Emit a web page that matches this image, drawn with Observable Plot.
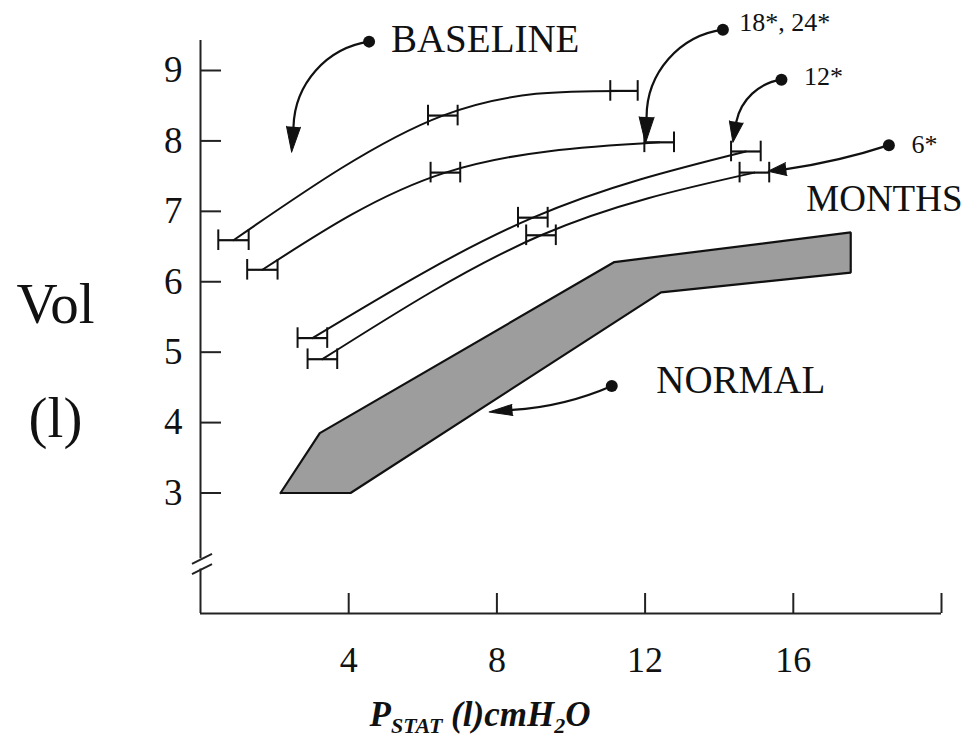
<!DOCTYPE html>
<html><head><meta charset="utf-8">
<script src="https://cdn.jsdelivr.net/npm/d3@7"></script>
<script src="https://cdn.jsdelivr.net/npm/@observablehq/plot@0.6"></script>
<style>html,body{margin:0;padding:0;background:#fff;}</style>
</head><body><div id="chart"></div>
<script>
// ---------- data ----------
const seriesNames = ["BASELINE", "18*, 24*", "12*", "6*"];
const baselineP  = [0.89, 6.54, 11.43];
const baselineV  = [6.59, 8.36, 8.71];
const baselineSE = [0.41, 0.40, 0.37];
const m18P  = [1.67, 6.61, 12.38];
const m18V  = [6.17, 7.55, 7.98];
const m18SE = [0.41, 0.40, 0.40];
const m12P  = [3.02, 8.97, 14.72];
const m12V  = [5.20, 6.91, 7.85];
const m12SE = [0.40, 0.40, 0.40];
const m6P   = [3.29, 9.19, 14.95];
const m6V   = [4.90, 6.66, 7.55];
const m6SE  = [0.40, 0.40, 0.40];

// NORMAL band outline (polygon vertices)
const normalP = [2.16, 3.22, 11.17, 17.55, 17.55, 12.43, 4.05, 2.16];
const normalV = [3.00, 3.85, 6.28, 6.70, 6.13, 5.85, 3.00, 3.00];

const xTickLabels = [4, 8, 12, 16];
const xTickMarks = [4, 8, 12, 16, 20];
const yTickLabels = [3, 4, 5, 6, 7, 8, 9];
const axisBreakV = [2.065, 1.92];

// annotations
const annoLabels   = ["BASELINE", "18*, 24*", "12*", "6*", "NORMAL"];
const annoTextP    = [5.14, 14.54, 16.29, 19.19, 12.30];
const annoTextV    = [9.445, 9.675, 8.908, 7.95, 4.60];
const annoTextSize = [39, 26, 26, 26, 39];
const annoDotP     = [4.55, 14.10, 15.68, 18.58, 11.10];
const annoDotV     = [9.41, 9.58, 8.87, 7.94, 4.52];
const annoBaseP    = [2.51, 12.04, 14.46, 15.81, 8.42];
const annoBaseV    = [8.20, 8.34, 8.27, 7.60, 4.18];
const annoTipP     = [2.46, 12.01, 14.37, 15.32, 7.79];
const annoTipV     = [7.84, 7.97, 7.98, 7.57, 4.15];
const annoBend     = [-40, -41, -35, 5, 10];
const annoHeadHalfW = [7, 7.5, 7, 6.5, 5.5];
const monthsLabel = ["MONTHS"];
const monthsP = [16.35];
const monthsV = [7.18];

const yLabelLines = ["Vol", "(l)"];
const yLabelV = [5.68, 4.06];

// ---------- layout ----------
const W = 970, H = 738;
const mL = 200, mR = 29, mT = 40, mB = 125;
const xMin = 0, xMax = 20, yMin = 1.289, yMax = 9.426;
const plotW = W - mL - mR, plotH = H - mT - mB;
const kx = plotW / (xMax - xMin), ky = plotH / (yMax - yMin);

const seriesP = [baselineP, m18P, m12P, m6P];
const seriesV = [baselineV, m18V, m12V, m6V];
const seriesSE = [baselineSE, m18SE, m12SE, m6SE];
const rows = [];
seriesNames.forEach((s, i) => seriesP[i].forEach((p, j) =>
  rows.push({series: s, p, v: seriesV[i][j], se: seriesSE[i][j]})));

const band = normalP.map((p, i) => ({p, v: normalV[i]}));
const capH = 10.3 / ky;

const annos = annoLabels.map((label, i) => {
  const dx = (annoTipP[i] - annoBaseP[i]) * kx;
  const dy = -(annoTipV[i] - annoBaseV[i]) * ky;
  return {label, i, rotate: Math.atan2(dx, -dy) * 180 / Math.PI, len: Math.hypot(dx, dy)};
});

const serif = "'Liberation Serif', 'Times New Roman', serif";
const bandFill = "#9d9d9d";

const marks = [
  // NORMAL band
  Plot.line(band, {x: "p", y: "v", fill: bandFill, stroke: "#111", strokeWidth: 2.2, strokeLinejoin: "miter"}),
  // axes
  Plot.ruleX([xMin], {y1: axisBreakV[0], y2: yMax, stroke: "#222", strokeWidth: 2}),
  Plot.ruleX([xMin], {y1: yMin, y2: axisBreakV[1], stroke: "#222", strokeWidth: 2}),
  Plot.link(axisBreakV, {x1: -0.23, x2: 0.31, y1: d => d - 5 / ky, y2: d => d + 5 / ky, stroke: "#222", strokeWidth: 2}),
  Plot.ruleY([yMin], {x1: xMin, x2: xMax, stroke: "#222", strokeWidth: 2}),
  Plot.tickY(yTickLabels, {y: d => d, insetRight: plotW - 21, stroke: "#222", strokeWidth: 2}),
  Plot.tickX(xTickMarks, {x: d => d, insetTop: plotH - 20, stroke: "#222", strokeWidth: 2}),
  Plot.text(yTickLabels, {x: xMin, y: d => d, text: d => String(d), textAnchor: "end", dx: -18, fontSize: 37, fontFamily: serif}),
  Plot.text(xTickLabels, {x: d => d, y: yMin, text: d => String(d), dy: 47, fontSize: 36, fontFamily: serif}),
  Plot.text(yLabelLines, {y: (d, i) => yLabelV[i], frameAnchor: "left", textAnchor: "middle", dx: -145, text: d => d, fontSize: 57, fontFamily: serif}),
  // curves
  Plot.line(rows, {x: "p", y: "v", z: "series", curve: "natural", stroke: "#111", strokeWidth: 2}),
  // error bars
  Plot.link(rows, {x1: d => d.p - d.se, x2: d => d.p + d.se, y1: "v", y2: "v", stroke: "#111", strokeWidth: 2.2}),
  Plot.ruleX(rows, {x: d => d.p - d.se, y1: d => d.v - capH, y2: d => d.v + capH, stroke: "#111", strokeWidth: 2}),
  Plot.ruleX(rows, {x: d => d.p + d.se, y1: d => d.v - capH, y2: d => d.v + capH, stroke: "#111", strokeWidth: 2}),
  // annotations
  ...annos.map(a => Plot.arrow([a], {x1: () => annoDotP[a.i], y1: () => annoDotV[a.i], x2: () => annoBaseP[a.i], y2: () => annoBaseV[a.i], bend: annoBend[a.i], headLength: 0, stroke: "#111", strokeWidth: 2.2})),
  ...annos.map(a => Plot.vector([a], {x: () => annoTipP[a.i], y: () => annoTipV[a.i], shape: "spike", anchor: "end", length: a.len, rotate: a.rotate, r: annoHeadHalfW[a.i], fill: "#111", stroke: "#111", strokeWidth: 1})),
  Plot.dot(annos, {x: d => annoDotP[d.i], y: d => annoDotV[d.i], r: 6, fill: "#111", stroke: "none"}),
  ...annos.map(a => Plot.text([a], {x: () => annoTextP[a.i], y: () => annoTextV[a.i], text: "label", textAnchor: "start", fontSize: annoTextSize[a.i], fontFamily: serif})),
  Plot.text(monthsLabel, {x: (d, i) => monthsP[i], y: (d, i) => monthsV[i], text: d => d, textAnchor: "start", fontSize: 37, fontFamily: serif})
];

const chart = Plot.plot({
  width: W, height: H,
  marginLeft: mL, marginRight: mR, marginTop: mT, marginBottom: mB,
  x: {domain: [xMin, xMax], axis: null},
  y: {domain: [yMin, yMax], axis: null},
  style: {fontFamily: serif, background: "#fff", color: "#111", overflow: "visible"},
  marks
});

// x-axis title with subscripts
const t = d3.select(chart).append("text")
  .attr("x", 480).attr("y", 726).attr("text-anchor", "middle")
  .attr("font-family", serif).attr("font-weight", "bold").attr("font-style", "italic")
  .attr("font-size", 35).attr("fill", "#111");
t.append("tspan").text("P");
t.append("tspan").attr("font-size", 22).attr("dy", 7).text("STAT");
t.append("tspan").attr("dy", -7).text(" (l)cmH");
t.append("tspan").attr("font-size", 22).attr("dy", 7).text("2");
t.append("tspan").attr("dy", -7).text("O");

document.getElementById("chart").appendChild(chart);
</script>
</body></html>
